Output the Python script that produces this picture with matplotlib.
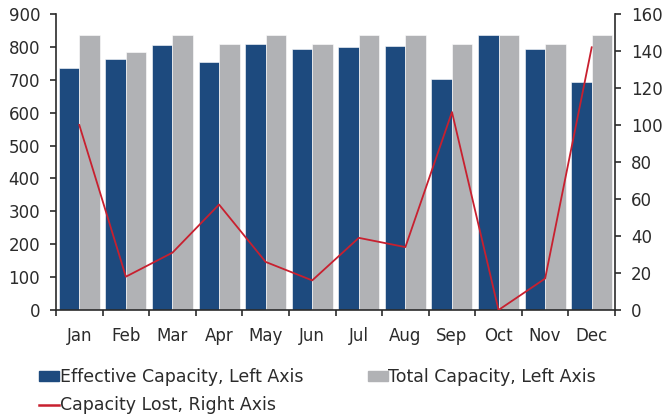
import numpy as np
import matplotlib.pyplot as plt
from matplotlib.patches import Patch
from matplotlib.lines import Line2D

months = ["Jan", "Feb", "Mar", "Apr", "May", "Jun",
          "Jul", "Aug", "Sep", "Oct", "Nov", "Dec"]
effective = [737, 764, 806, 753, 809, 794, 800, 803, 701, 836, 794, 693]
total = [836, 784, 836, 809, 836, 809, 836, 836, 809, 836, 809, 836]
lost = [100, 18, 31, 57, 26, 16, 39, 34, 107, 0, 17, 142]

BLUE = "#1d4a7e"
GREY = "#b1b2b5"
RED = "#c8202f"
TXT = "#2b2b2b"

plt.rcParams["font.family"] = "DejaVu Sans"

fig = plt.figure(figsize=(6.66, 4.2), dpi=100)
ax = fig.add_axes([56 / 666, 1 - 310 / 420, (615 - 56) / 666, (310 - 14) / 420])
ax2 = ax.twinx()

x = np.arange(len(months))
w = 0.44
ax.bar(x - w / 2, effective, width=w, color=BLUE, edgecolor="white", linewidth=0.4, zorder=2)
ax.bar(x + w / 2, total, width=w, color=GREY, edgecolor="white", linewidth=0.4, zorder=2)
ax2.plot(x, lost, color=RED, linewidth=1.3)

ax.set_xlim(-0.5, len(months) - 0.5)
ax.set_ylim(0, 900)
ax.set_yticks(range(0, 901, 100))
ax2.set_ylim(0, 160)
ax2.set_yticks(range(0, 161, 20))

ax.set_xticks(x)
ax.set_xticklabels(months)
ax.set_xticks(np.arange(-0.5, len(months), 1), minor=True)
ax.tick_params(axis="x", which="major", length=0, pad=12, labelsize=12, labelcolor=TXT)
ax.tick_params(axis="x", which="minor", length=4.5, width=1.2, color=TXT)
ax.tick_params(axis="y", length=4.5, width=1.2, color=TXT, labelsize=12, labelcolor=TXT, pad=7)
ax2.tick_params(axis="y", length=4.5, width=1.2, color=TXT, labelsize=12, labelcolor=TXT, pad=7)

for a in (ax, ax2):
    a.spines["top"].set_visible(False)
    for s in ("left", "right", "bottom"):
        a.spines[s].set_color(TXT)
        a.spines[s].set_linewidth(1.2)
ax.spines["right"].set_visible(False)
ax2.spines["left"].set_visible(False)
ax2.spines["bottom"].set_visible(False)

# column-wise fill: col 1 = effective + lost, col 2 = total
handles = [Patch(color=BLUE), Line2D([], [], color=RED, linewidth=1.8), Patch(color=GREY)]
labels = ["Effective Capacity, Left Axis", "Capacity Lost, Right Axis",
          "Total Capacity, Left Axis"]
leg = fig.legend(handles, labels, loc="upper left", bbox_to_anchor=(39 / 666, 1 - 368 / 420),
                 ncol=2, frameon=False, fontsize=12.5, handlelength=1.15, handleheight=0.46,
                 handletextpad=0.05, columnspacing=3.7, labelspacing=0.6,
                 borderaxespad=0, borderpad=0)
for t in leg.get_texts():
    t.set_color(TXT)

fig.savefig("out.png", dpi=100)
